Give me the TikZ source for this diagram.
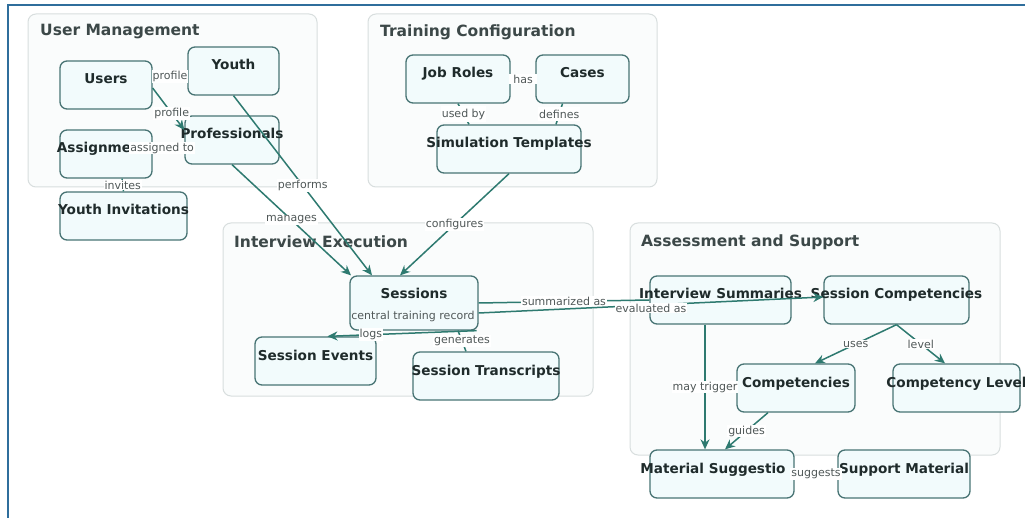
\documentclass[tikz,border=0pt]{standalone}
\usepackage{fontspec}
\setmainfont{DejaVu Sans}
\usetikzlibrary{arrows.meta,positioning}
\definecolor{nodeline}{RGB}{72,116,116}
\definecolor{nodefill}{RGB}{242,251,252}
\definecolor{edgecol}{RGB}{46,122,112}
\definecolor{groupline}{RGB}{216,222,222}
\definecolor{groupfill}{RGB}{250,252,252}
\definecolor{titlecol}{RGB}{60,72,72}
\definecolor{textcol}{RGB}{31,43,43}
\definecolor{lblcol}{RGB}{80,88,88}
\definecolor{framecol}{RGB}{47,110,156}

\begin{document}
\begin{tikzpicture}[
    x=1pt, y=-1pt,
    >={Stealth[length=10pt,width=9pt]},
    group/.style={draw=groupline, fill=groupfill, rounded corners=8pt, line width=1pt, inner sep=0pt},
    grouptitle/.style={anchor=west, inner sep=0pt, text=titlecol, font=\fontsize{15.5}{18}\selectfont\bfseries},
    entity/.style={draw=nodeline, fill=nodefill, rounded corners=7pt, line width=1.3pt, inner sep=0pt,
        minimum height=48pt, text height=10pt, text depth=12pt, text=textcol,
        font=\fontsize{13.6}{16}\selectfont\bfseries,
        execute at begin node={\hbox to 0pt\bgroup\hss}, execute at end node={\hss\egroup}},
    link/.style={draw=edgecol, line width=1.5pt},
    lbl/.style={fill=white, inner sep=1pt, text=lblcol, font=\fontsize{11}{13}\selectfont}
]
\clip (0,0) rectangle (1025,518);
\fill[white] (0,0) rectangle (1025,518);

\node[group, minimum width=289pt, minimum height=173pt] (gusers) at (172.5,100.5) {};
\node[group, minimum width=289pt, minimum height=173pt] (gtrain) at (512.5,100.5) {};
\node[group, minimum width=370pt, minimum height=173pt] (gexec) at (408,309.5) {};
\node[group, minimum width=370pt, minimum height=232pt] (gassess) at (815,339) {};

\node[grouptitle] (tusers) at (40,32) {User Management};
\node[grouptitle] (ttrain) at (380,32) {Training Configuration};
\node[grouptitle] (texec) at (234,242) {Interview Execution};
\node[grouptitle] (tassess) at (641,242) {Assessment and Support};

\node[entity, minimum width=92pt] (users) at (106,85) {Users};
\node[entity, minimum width=91pt] (youth) at (233.5,71) {Youth};
\node[entity, minimum width=94pt] (profs) at (232,140) {Professionals};
\node[entity, minimum width=92pt] (assign) at (106,154) {\hspace*{-24pt}Assignme};
\node[entity, minimum width=127pt] (invites) at (123.5,216) {Youth Invitations};

\node[entity, minimum width=104pt] (jobroles) at (458,79) {Job Roles};
\node[entity, minimum width=93pt] (cases) at (582.5,79) {Cases};
\node[entity, minimum width=144pt] (simtpl) at (509,149) {Simulation Templates};

\node[entity, minimum width=128pt, minimum height=54pt, text depth=18pt] (sessions) at (414,303) {Sessions};
\node[lbl, fill=none] (record) at (413,316) {central training record};
\node[entity, minimum width=121pt] (events) at (315.5,361) {Session Events};
\node[entity, minimum width=146pt] (transcripts) at (486,376) {Session Transcripts};

\node[entity, minimum width=141pt] (summaries) at (720.5,300) {Interview Summaries};
\node[entity, minimum width=145pt] (sesscomp) at (896.5,300) {Session Competencies};
\node[entity, minimum width=118pt] (comps) at (796,388) {Competencies};
\node[entity, minimum width=127pt] (levels) at (956.5,388) {Competency Level};
\node[entity, minimum width=144pt] (suggestions) at (722,474) {\hspace*{-18pt}Material Suggestio};
\node[entity, minimum width=132pt] (support) at (904,474) {Support Material};

\draw[link] ([yshift=7pt]users.east) -- ([yshift=-4pt]youth.west) node[lbl, midway] {profile};
\draw[link,->] ([yshift=-3pt]users.east) -- ([yshift=10pt]profs.west) node[lbl, pos=0.6] {profile};
\draw[link] ([yshift=6pt]assign.east) -- ([yshift=-8pt]profs.west) node[lbl, pos=0.3] {assigned to};
\draw[link] ([xshift=16pt]assign.south) -- (invites.north) node[lbl, midway] {invites};
\draw[link,->] (youth.south) -- ([xshift=-42pt]sessions.north) node[lbl, midway] {performs};
\draw[link,->] (profs.south) -- ([xshift=-63pt]sessions.north) node[lbl, midway] {manages};

\draw[link] (jobroles.east) -- (cases.west) node[lbl, midway, inner xsep=4pt] {has};
\draw[link] (jobroles.south) -- ([xshift=-40pt]simtpl.north) node[lbl, midway, inner ysep=3pt] {used by};
\draw[link] ([xshift=-20pt]cases.south) -- ([xshift=47pt]simtpl.north) node[lbl, midway, inner ysep=3pt] {defines};
\draw[link,->] (simtpl.south) -- ([xshift=-14pt]sessions.north) node[lbl, midway] {configures};

\draw[link,->] ([xshift=-2pt]sessions.south east) -- ([xshift=12pt]events.north) node[lbl, pos=0.71] {logs};
\draw[link] ([xshift=44pt]sessions.south) -- ([xshift=-20pt]transcripts.north) node[lbl, midway] {generates};
\draw[link] (sessions.east) -- (summaries.west) node[lbl, midway] {summarized as};
\draw[link,->] ([yshift=-10pt]sessions.east) -- ([yshift=3pt]sesscomp.west) node[lbl, midway, yshift=-3pt] {evaluated as};

\draw[link,->] ([xshift=-15.5pt]summaries.south) -- ([xshift=-17pt]suggestions.north) node[lbl, midway] {may trigger};
\draw[link,->] (sesscomp.south) -- ([xshift=19pt]comps.north) node[lbl, midway] {uses};
\draw[link,->] (sesscomp.south) -- ([xshift=-11.5pt]levels.north) node[lbl, midway] {level};
\draw[link,->] ([xshift=-28pt]comps.south) -- ([xshift=3pt]suggestions.north) node[lbl, midway] {guides};
\draw[link] (suggestions.east) -- (support.west) node[lbl, midway] {suggests};

\draw[framecol, line width=2pt] (1025,5) -- (8,5) -- (8,518);
\end{tikzpicture}
\end{document}
